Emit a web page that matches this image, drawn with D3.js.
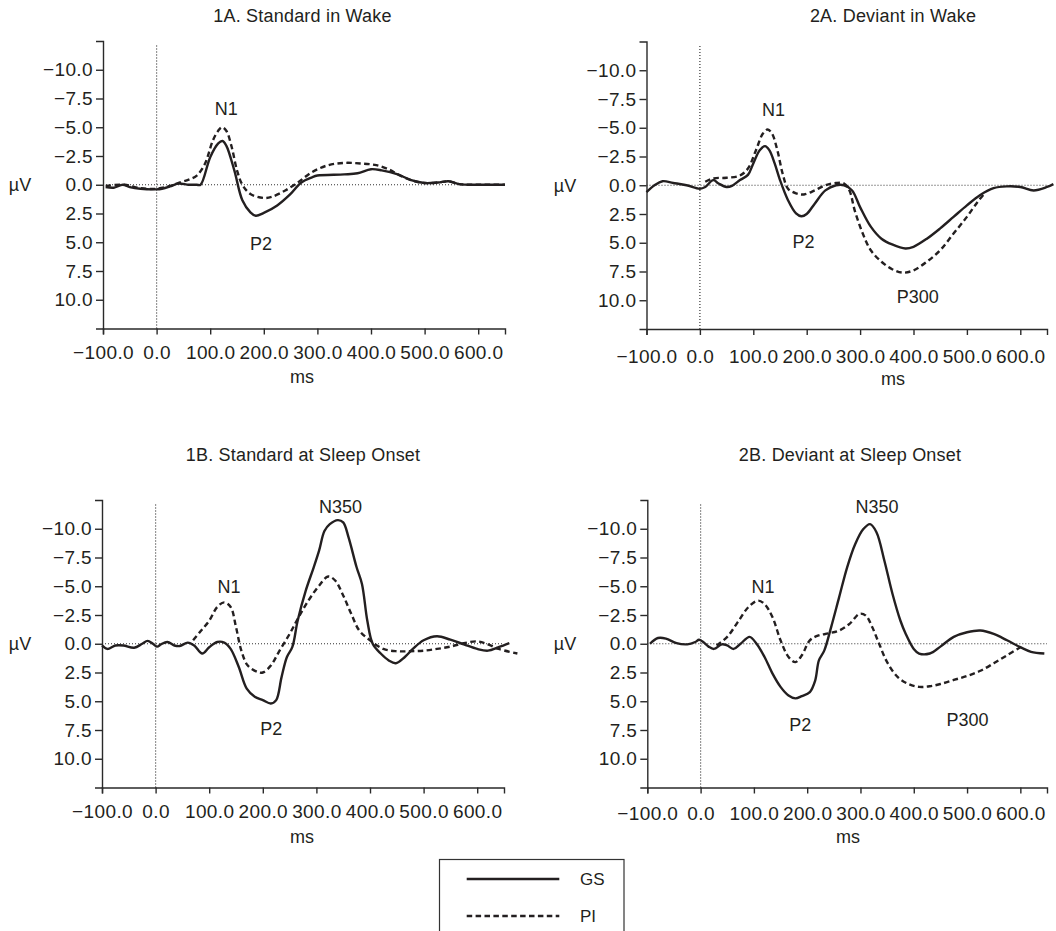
<!DOCTYPE html>
<html>
<head>
<meta charset="utf-8">
<script src="https://cdn.jsdelivr.net/npm/d3@7"></script>
<style>
  html, body { margin: 0; padding: 0; background: #fff; }
  svg { display: block; font-family: "Liberation Sans", Arial, Helvetica, sans-serif; }
  .axis path, .axis line { stroke: #2a2a2a; stroke-width: 1.4; }
  .axis text { fill: #231f20; font-size: 19px; letter-spacing: 0.4px; font-family: "Liberation Sans", Arial, sans-serif; }
</style>
</head>
<body>
<svg id="chart" width="1056" height="931"></svg>
<script>
// Axis ticks (µV axis is drawn negative-up, the usual ERP convention)
const xTicks = [-100, 0, 100, 200, 300, 400, 500, 600];
const xTickLabels = ["−100.0", "0.0", "100.0", "200.0", "300.0", "400.0", "500.0", "600.0"];
const yTicks = [-10, -7.5, -5, -2.5, 0, 2.5, 5, 7.5, 10];
const yTickLabels = ["−10.0", "−7.5", "−5.0", "−2.5", "0.0", "2.5", "5.0", "7.5", "10.0"];
const seriesNames = ["GS", "PI"];

// Grand averages, [ms, µV]
const gs1A = [[-95,0.2],[-80,0.26],[-63,0],[-50,0.2],[-30,0.35],[0,0.4],[10,0.35],[25,0.15],[40,-0.1],[60,0],[75,0],[82,0],
  [100,-2.4],[115,-3.6],[123,-3.8],[130,-3.4],[145,-1.25],[160,1.35],[175,2.4],[185,2.7],[200,2.45],[225,1.8],[250,0.8],
  [270,-0.2],[290,-0.65],[300,-0.8],[350,-0.9],[375,-1.0],[400,-1.35],[420,-1.25],[450,-0.9],[475,-0.4],[500,-0.15],
  [525,-0.2],[545,-0.3],[565,-0.05],[600,0],[650,0]];
const pi1A = [[-95,0.1],[-60,0],[-30,0.3],[0,0.35],[25,0.1],[40,-0.15],[60,-0.45],[75,-0.8],[90,-1.8],[105,-3.85],
  [115,-4.7],[122,-5.0],[130,-4.7],[140,-3.3],[150,-1.25],[160,0],[175,0.8],[200,1.15],[215,1.05],[240,0.5],[265,-0.25],
  [290,-1.1],[320,-1.7],[350,-1.9],[380,-1.85],[410,-1.7],[435,-1.3],[450,-0.9],[475,-0.4],[500,-0.15],[525,-0.2],
  [545,-0.3],[565,-0.05],[600,0],[650,0]];

const gs2A = [[-100,0.6],[-85,0],[-70,-0.35],[-50,-0.2],[-25,0],[0,0.3],[10,0.15],[25,-0.45],[35,-0.15],[50,0.15],
  [60,0.05],[75,-0.45],[90,-0.9],[100,-1.9],[112,-3.05],[122,-3.4],[130,-3.05],[140,-1.9],[150,-0.45],[165,1.3],
  [180,2.45],[190,2.7],[200,2.5],[215,1.6],[235,0.45],[255,0],[270,0],[285,0.45],[300,1.9],[320,3.6],[340,4.65],
  [360,5.15],[385,5.5],[400,5.35],[425,4.65],[450,3.75],[475,2.75],[500,1.75],[525,0.85],[550,0.25],[575,0.1],
  [600,0.15],[625,0.45],[650,0.15],[662,-0.1]];
const pi2A = [[10,-0.3],[25,-0.6],[50,-0.65],[75,-0.85],[90,-1.45],[105,-3.05],[118,-4.5],[127,-4.85],[135,-4.5],
  [145,-3.05],[155,-1.0],[165,0.3],[180,0.7],[195,0.8],[215,0.45],[235,0],[255,-0.2],[270,-0.15],[280,0.45],[290,2.2],
  [305,4.2],[320,5.65],[340,6.65],[360,7.3],[380,7.6],[400,7.4],[425,6.65],[450,5.65],[475,4.2],[500,2.75],[520,1.45],
  [535,0.6]];

const gs1B = [[-100,0.15],[-90,0.45],[-75,0.15],[-60,0.15],[-40,0.35],[-25,0],[-15,-0.25],[-5,0],[3,0.25],[10,0.05],
  [22,-0.15],[35,0.15],[45,0.2],[60,-0.1],[72,0.15],[87,0.85],[100,0.3],[115,-0.15],[128,-0.1],[140,0.45],[155,2.0],
  [170,3.9],[185,4.6],[200,4.9],[215,5.2],[225,4.9],[235,2.9],[245,1.15],[255,0.3],[265,-2.0],[280,-4.6],[295,-6.65],
  [305,-8.1],[315,-9.8],[325,-10.4],[340,-10.75],[350,-10.55],[360,-9.25],[375,-6.65],[385,-5.2],[395,-2.0],[405,0],
  [420,0.85],[435,1.45],[448,1.7],[465,1.15],[480,0.45],[500,-0.3],[525,-0.65],[550,-0.35],[575,0.05],[600,0.45],
  [620,0.6],[640,0.3],[660,-0.05]];
const pi1B = [[70,-0.3],[85,-1.15],[100,-2.0],[115,-3.2],[128,-3.6],[140,-3.2],[150,-1.45],[160,0.6],[172,1.9],
  [190,2.45],[200,2.5],[215,1.9],[230,0.7],[250,-0.85],[265,-2.15],[285,-3.75],[305,-5.05],[322,-5.85],[335,-5.5],
  [350,-4.2],[365,-2.6],[380,-1.15],[400,-0.3],[425,0.45],[450,0.65],[475,0.65],[500,0.6],[525,0.45],[550,0.25],
  [575,-0.05],[600,-0.2],[620,0.05],[640,0.45],[675,0.85]];

const gs2B = [[-95,0],[-80,-0.5],[-65,-0.45],[-45,-0.05],[-25,0.05],[-10,-0.15],[-3,-0.35],[5,-0.15],[15,0.25],
  [25,0.45],[40,0.05],[50,0.15],[62,0.45],[75,0],[92,-0.6],[105,0],[120,1.15],[135,2.6],[150,3.75],[165,4.5],
  [178,4.75],[190,4.55],[205,4.2],[215,3.2],[222,1.45],[232,0.6],[245,-1.45],[260,-4.05],[275,-6.65],[290,-8.65],
  [305,-9.95],[318,-10.4],[330,-9.7],[345,-7.2],[360,-4.35],[375,-2.0],[385,-0.85],[400,0.45],[410,0.85],[430,0.85],
  [450,0.25],[475,-0.6],[500,-1.0],[525,-1.15],[550,-0.85],[575,-0.3],[600,0.3],[620,0.7],[645,0.85]];
const pi2B = [[30,0.15],[50,-0.6],[70,-1.9],[90,-3.2],[108,-3.75],[120,-3.45],[135,-2.3],[150,-0.3],[165,1.15],
  [178,1.6],[190,1.0],[205,-0.3],[220,-0.7],[240,-0.9],[260,-1.15],[280,-1.75],[298,-2.6],[310,-2.45],[322,-1.45],
  [335,0],[350,1.6],[370,2.9],[390,3.5],[410,3.75],[430,3.7],[450,3.5],[475,3.15],[500,2.8],[525,2.35],[550,1.7],
  [575,1.0],[600,0.3]];

// Component labels, [text, ms, µV]
const peaks1A = [["N1",130,-6.6],["P2",195,5.1]];
const peaks2A = [["N1",138,-6.6],["P2",194,4.9],["P300",408,9.7]];
const peaks1B = [["N350",345,-11.9],["N1",137,-5.0],["P2",216,7.4]];
const peaks2B = [["N350",331,-11.9],["N1",117,-5.0],["P2",187,7.0],["P300",501,6.6]];

const panelTitles = ["1A. Standard in Wake", "2A. Deviant in Wake", "1B. Standard at Sleep Onset", "2B. Deviant at Sleep Onset"];

// Layout of the four panels
const panels = [
  { title: panelTitles[0], gs: gs1A, pi: pi1A, peaks: peaks1A, left: 103, right: 505, top: 41, bottom: 328.5,
    titleX: 302.5, titleY: 22.3, msX: 302, msY: 383, uvX: 20, tickPad: 11 },
  { title: panelTitles[1], gs: gs2A, pi: pi2A, peaks: peaks2A, left: 646.5, right: 1047, top: 41.5, bottom: 329,
    titleX: 893, titleY: 22.3, msX: 893, msY: 385, uvX: 565, tickPad: 15 },
  { title: panelTitles[2], gs: gs1B, pi: pi1B, peaks: peaks1B, left: 102, right: 504, top: 500, bottom: 787.5,
    titleX: 303, titleY: 461.3, msX: 302, msY: 843, uvX: 20, tickPad: 11.5 },
  { title: panelTitles[3], gs: gs2B, pi: pi2B, peaks: peaks2B, left: 647.3, right: 1047, top: 500, bottom: 787.5,
    titleX: 850, titleY: 460.7, msX: 848, msY: 843, uvX: 565, tickPad: 13 }
];

const svg = d3.select("#chart");
const ink = "#231f20";
const dashPattern = "5.5,3.4";

panels.forEach(p => {
  const x = d3.scaleLinear().domain([-100, 650]).range([p.left, p.right]);
  const y = d3.scaleLinear().domain([-12.5, 12.5]).range([p.top, p.bottom]);
  const g = svg.append("g");

  // reference lines at 0 ms and 0 µV
  g.append("line")
    .attr("x1", x(-100)).attr("x2", x(650)).attr("y1", y(0)).attr("y2", y(0))
    .attr("stroke", "#333").attr("stroke-width", 1.2).attr("stroke-dasharray", "1,2");
  g.append("line")
    .attr("x1", x(0)).attr("x2", x(0)).attr("y1", y(-12.1)).attr("y2", y(12.5))
    .attr("stroke", "#333").attr("stroke-width", 1.2).attr("stroke-dasharray", "1,2");

  // axes
  g.append("g").attr("class", "axis")
    .attr("transform", `translate(0,${p.bottom})`)
    .call(d3.axisBottom(x).tickValues(xTicks).tickFormat((d, i) => xTickLabels[i])
      .tickSize(6).tickSizeOuter(6).tickPadding(p.tickPad));
  g.append("g").attr("class", "axis")
    .attr("transform", `translate(${p.left},0)`)
    .call(d3.axisLeft(y).tickValues(yTicks).tickFormat((d, i) => yTickLabels[i])
      .tickSize(7).tickSizeOuter(7).tickPadding(3));

  // waveforms
  const line = d3.line()
    .x(d => x(d[0])).y(d => y(d[1]))
    .curve(d3.curveCatmullRom.alpha(0.5));
  g.append("path").datum(p.pi)
    .attr("d", line).attr("fill", "none").attr("stroke", ink)
    .attr("stroke-width", 2.4).attr("stroke-dasharray", dashPattern);
  g.append("path").datum(p.gs)
    .attr("d", line).attr("fill", "none").attr("stroke", ink)
    .attr("stroke-width", 2.4).attr("stroke-linejoin", "round");

  // component labels
  g.selectAll("text.peak").data(p.peaks).join("text")
    .attr("class", "peak")
    .attr("x", d => x(d[1])).attr("y", d => y(d[2]))
    .attr("dy", "0.35em").attr("text-anchor", "middle")
    .attr("font-size", 18).attr("fill", ink)
    .text(d => d[0]);

  // titles and axis captions
  g.append("text").attr("x", p.titleX).attr("y", p.titleY)
    .attr("text-anchor", "middle").attr("font-size", 18).attr("letter-spacing", 0.2).attr("fill", ink)
    .text(p.title);
  g.append("text").attr("x", p.msX).attr("y", p.msY)
    .attr("text-anchor", "middle").attr("font-size", 18).attr("fill", ink)
    .text("ms");
  g.append("text").attr("x", p.uvX).attr("y", y(0))
    .attr("dy", "0.35em").attr("text-anchor", "middle").attr("font-size", 18).attr("fill", ink)
    .text("µV");
});

// legend
const legend = svg.append("g");
legend.append("rect")
  .attr("x", 439.5).attr("y", 859.5).attr("width", 184.5).attr("height", 100)
  .attr("fill", "none").attr("stroke", "#333").attr("stroke-width", 1.2);
seriesNames.forEach((name, i) => {
  const ly = 879 + i * 37;
  legend.append("line")
    .attr("x1", 466.7).attr("x2", 559.3).attr("y1", ly).attr("y2", ly)
    .attr("stroke", ink).attr("stroke-width", 2.4)
    .attr("stroke-dasharray", i === 0 ? null : dashPattern);
  legend.append("text")
    .attr("x", 580).attr("y", ly).attr("dy", "0.35em")
    .attr("font-size", 17).attr("fill", ink)
    .text(name);
});
</script>
</body>
</html>
